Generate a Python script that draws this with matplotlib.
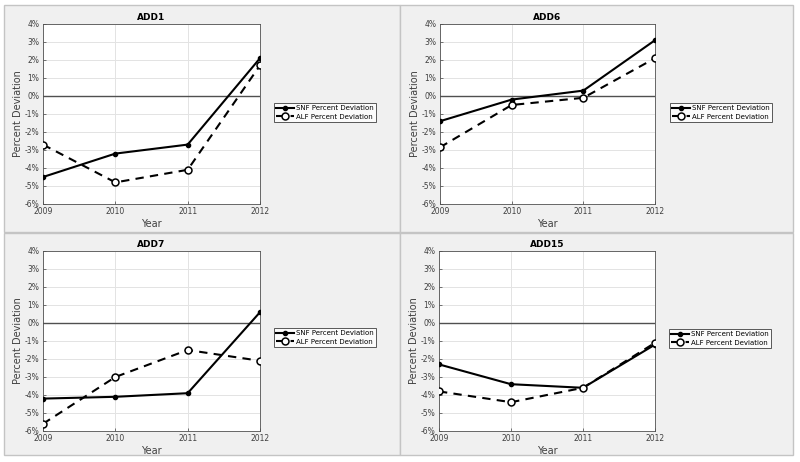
import matplotlib
matplotlib.use('Agg')
import matplotlib.pyplot as plt
from matplotlib.patches import Rectangle
from matplotlib.ticker import FuncFormatter

W, H = 800, 462
dpi = 100.0

years = [2009, 2010, 2011, 2012]
titles = ['ADD1', 'ADD6', 'ADD7', 'ADD15']
snf = {
    'ADD1': [-4.5, -3.2, -2.7, 2.1],
    'ADD6': [-1.4, -0.2, 0.3, 3.1],
    'ADD7': [-4.2, -4.1, -3.9, 0.6],
    'ADD15': [-2.3, -3.4, -3.6, -1.2],
}
alf = {
    'ADD1': [-2.7, -4.8, -4.1, 1.7],
    'ADD6': [-2.85, -0.5, -0.1, 2.1],
    'ADD7': [-5.6, -3.0, -1.5, -2.1],
    'ADD15': [-3.8, -4.4, -3.6, -1.1],
}
yticks = list(range(-6, 5))

# pixel boxes: panel (x0, y0, x1, y1), axes (left, top, right, bottom), legend (x, y)
panels = [(4, 5, 400, 232), (400, 5, 793, 232), (4, 233, 400, 455), (400, 233, 793, 455)]
axes_px = [(43, 24, 260, 204), (440, 24, 655, 204), (43, 251, 260, 431), (439, 251, 655, 431)]
legend_px = [(274, 103), (670, 103), (274, 328), (669, 329)]


def fx(px):
    return px / W


def fy(py):
    return 1 - py / H


fig = plt.figure(figsize=(W / dpi, H / dpi), dpi=dpi)
fig.patch.set_facecolor('white')

for x0, y0, x1, y1 in panels:
    fig.patches.append(Rectangle((fx(x0), fy(y1)), fx(x1 - x0), (y1 - y0) / H,
                                 transform=fig.transFigure, facecolor='#f0f0f0',
                                 edgecolor='#c4c4c4', linewidth=1.0, zorder=-5))

for name, (l, t, r, b), (lx, ly) in zip(titles, axes_px, legend_px):
    ax = fig.add_axes([fx(l), fy(b), fx(r - l), (b - t) / H])
    ax.set_zorder(2)
    ax.set_facecolor('white')
    ax.axhline(0, color='#505050', linewidth=1.0, zorder=1)
    ax.plot(years, snf[name], '-', color='black', linewidth=1.5, marker='o',
            markersize=3, label='SNF Percent Deviation', zorder=3)
    ax.plot(years, alf[name], '--', color='black', linewidth=1.5, marker='o',
            markersize=5, markerfacecolor='white', markeredgecolor='black',
            markeredgewidth=1.1, dashes=(4, 3), label='ALF Percent Deviation', zorder=3)
    ax.set_xlim(2009, 2012)
    ax.set_ylim(-6, 4)
    ax.set_xticks(years)
    ax.set_yticks(yticks)
    ax.yaxis.set_major_formatter(FuncFormatter(lambda v, p: '%d%%' % v))
    ax.grid(True, color='#e3e3e3', linewidth=0.7)
    ax.set_axisbelow(True)
    ax.tick_params(labelsize=5.5, colors='#404040', length=2, width=0.5, pad=2.5,
                   direction='in')
    for s in ax.spines.values():
        s.set_color('#505050')
        s.set_linewidth(0.6)
    ax.set_title(name, fontsize=6.5, fontweight='bold', pad=3)
    ax.set_xlabel('Year', fontsize=7, color='#404040', labelpad=2)
    ax.set_ylabel('Percent Deviation', fontsize=7, color='#404040', labelpad=1)
    leg = ax.legend(loc='upper left', bbox_to_anchor=(fx(lx), fy(ly)),
                    bbox_transform=fig.transFigure, fontsize=5, frameon=True,
                    fancybox=False, handlelength=2.6, handletextpad=0.2,
                    borderpad=0.35, labelspacing=0.35, borderaxespad=0)
    leg.get_frame().set_edgecolor('#303030')
    leg.get_frame().set_linewidth(0.7)

fig.savefig('out.png', dpi=dpi)
